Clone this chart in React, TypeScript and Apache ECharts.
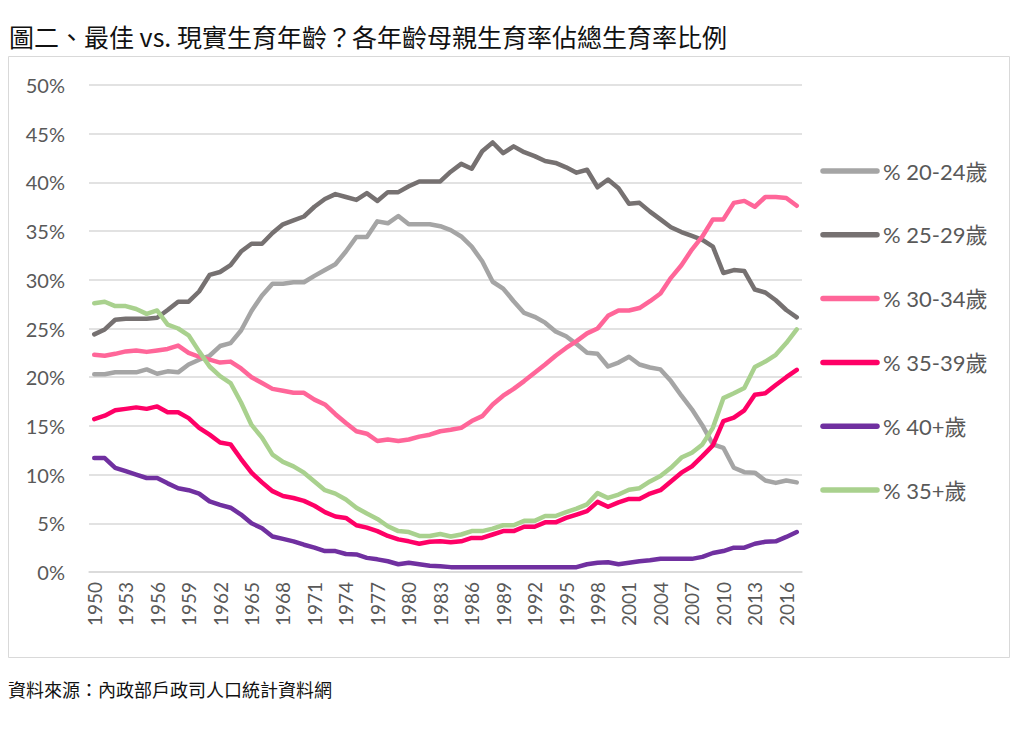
import React, { useEffect, useRef } from "react";
import * as echarts from "echarts";

const years: string[] = [];
for (let y = 1950; y <= 2017; y++) years.push(String(y));

const a2024 = [
  20.3, 20.3, 20.5, 20.5, 20.5, 20.8, 20.35, 20.6, 20.5, 21.3,
  21.8, 22.2, 23.2, 23.5, 24.8, 26.8, 28.4, 29.6, 29.6, 29.75,
  29.75, 30.4, 31.0, 31.6, 32.9, 34.4, 34.4, 36.0, 35.8, 36.55,
  35.7, 35.7, 35.7, 35.5, 35.1, 34.45, 33.4, 31.9, 29.8, 29.1,
  27.8, 26.6, 26.2, 25.6, 24.7, 24.2, 23.4, 22.5, 22.4, 21.1,
  21.5, 22.1, 21.3, 21.0, 20.8, 19.6, 18.1, 16.7, 15.05, 13.1,
  12.75, 10.7, 10.25, 10.2, 9.4, 9.15, 9.4, 9.2,
];
const a2529 = [
  24.4, 24.9, 25.9, 26.0, 26.0, 26.0, 26.1, 26.9, 27.75, 27.75,
  28.8, 30.5, 30.8, 31.5, 32.9, 33.7, 33.7, 34.8, 35.7, 36.1,
  36.5, 37.5, 38.3, 38.8, 38.5, 38.2, 38.9, 38.1, 39.0, 39.0,
  39.6, 40.1, 40.1, 40.1, 41.1, 41.9, 41.4, 43.2, 44.1, 43.0,
  43.7, 43.1, 42.7, 42.2, 42.0, 41.55, 41.0, 41.3, 39.5, 40.3,
  39.4, 37.8, 37.9, 37.0, 36.2, 35.4, 34.9, 34.5, 34.1, 33.4,
  30.7, 31.0, 30.9, 29.0, 28.7, 27.9, 26.9, 26.15,
];
const a3034 = [
  22.3, 22.2, 22.4, 22.65, 22.75, 22.6, 22.75, 22.9, 23.25, 22.5,
  22.1, 21.8, 21.5, 21.6, 20.9, 20.0, 19.4, 18.8, 18.6, 18.4,
  18.4, 17.7, 17.2, 16.2, 15.3, 14.45, 14.2, 13.45, 13.6, 13.45,
  13.6, 13.9, 14.1, 14.45, 14.6, 14.8, 15.5, 16.0, 17.2, 18.1,
  18.8, 19.6, 20.45, 21.3, 22.2, 23.0, 23.7, 24.5, 25.0, 26.3,
  26.85, 26.85, 27.1, 27.8, 28.6, 30.2, 31.5, 33.1, 34.45, 36.2,
  36.2, 37.9, 38.1, 37.5, 38.5, 38.5, 38.4, 37.6,
];
const a3539 = [
  15.7, 16.05, 16.6, 16.75, 16.9, 16.75, 17.0, 16.4, 16.4, 15.8,
  14.8, 14.1, 13.3, 13.1, 11.6, 10.2, 9.2, 8.3, 7.8, 7.6,
  7.3, 6.8, 6.15, 5.7, 5.55, 4.8, 4.55, 4.2, 3.7, 3.35,
  3.15, 2.9, 3.1, 3.15, 3.05, 3.15, 3.5, 3.5, 3.85, 4.2,
  4.2, 4.65, 4.65, 5.1, 5.1, 5.55, 5.9, 6.25, 7.2, 6.7,
  7.15, 7.5, 7.5, 8.05, 8.4, 9.3, 10.2, 10.85, 11.9, 13.0,
  15.5, 15.85, 16.6, 18.2, 18.35, 19.2, 20.0, 20.75,
];
const a40p = [
  11.7, 11.7, 10.7, 10.35, 10.0, 9.65, 9.65, 9.1, 8.6, 8.4,
  8.05, 7.25, 6.9, 6.6, 5.9, 5.0, 4.5, 3.65, 3.4, 3.15,
  2.8, 2.5, 2.15, 2.15, 1.85, 1.8, 1.45, 1.3, 1.1, 0.8,
  0.95, 0.8, 0.65, 0.6, 0.5, 0.5, 0.5, 0.5, 0.5, 0.5,
  0.5, 0.5, 0.5, 0.5, 0.5, 0.5, 0.5, 0.8, 0.95, 1.0,
  0.8, 0.95, 1.1, 1.2, 1.35, 1.35, 1.35, 1.35, 1.55, 1.95,
  2.15, 2.5, 2.5, 2.9, 3.1, 3.15, 3.6, 4.1,
];
const a35p = [
  27.6, 27.75, 27.3, 27.3, 27.0, 26.5, 26.85, 25.4, 25.0, 24.3,
  22.65, 21.1, 20.1, 19.4, 17.4, 15.1, 13.8, 12.05, 11.3, 10.85,
  10.2, 9.3, 8.4, 8.05, 7.45, 6.6, 6.0, 5.45, 4.7, 4.2,
  4.1, 3.7, 3.7, 3.9, 3.65, 3.85, 4.2, 4.2, 4.45, 4.8,
  4.8, 5.25, 5.25, 5.75, 5.75, 6.15, 6.5, 6.95, 8.1, 7.6,
  7.95, 8.45, 8.6, 9.3, 9.85, 10.7, 11.75, 12.25, 13.1, 14.8,
  17.85, 18.35, 18.9, 21.05, 21.6, 22.3, 23.5, 24.9,
];

const seriesNames = ["% 20-24歲", "% 25-29歲", "% 30-34歲", "% 35-39歲", "% 40+歲", "% 35+歲"];
const seriesData = [a2024, a2529, a3034, a3539, a40p, a35p];
const seriesColors = ["#a5a5a5", "#767171", "#ff6699", "#ff0066", "#7030a0", "#a9d18e"];

const titleText = "圖二、最佳 vs. 現實生育年齡？各年齡母親生育率佔總生育率比例";
const sourceText = "資料來源：內政部戶政司人口統計資料網";

const LATIN = "Lato, 'Noto Sans CJK TC', sans-serif";
const CJK = "'Noto Sans CJK TC', 'Noto Sans', sans-serif";

export default function App() {
  const ref = useRef<HTMLDivElement>(null);
  useEffect(() => {
    if (!ref.current) return;
    const chart = echarts.init(ref.current, undefined, { renderer: "svg" });

    const legendTop = 171;
    const legendStep = 63.8;
    const legendGraphics: any[] = [];
    seriesNames.forEach((name, i) => {
      const cy = legendTop + i * legendStep;
      legendGraphics.push({
        type: "line",
        shape: { x1: 823, y1: cy, x2: 877, y2: cy },
        style: { stroke: seriesColors[i], lineWidth: 5.5, lineCap: "round" },
        silent: true,
      });
      legendGraphics.push({
        type: "text",
        x: 883,
        y: cy,
        style: {
          text: name,
          font: `22px ${LATIN}`,
          fill: "#595959",
          textVerticalAlign: "middle",
          verticalAlign: "middle",
          textAlign: "left",
        },
        silent: true,
      });
    });

    chart.setOption({
      animation: false,
      backgroundColor: "#ffffff",
      title: {
        text: titleText,
        left: 4,
        top: 18,
        textStyle: { fontFamily: CJK, fontSize: 25, fontWeight: "normal", color: "#111" },
      },
      graphic: [
        {
          type: "rect",
          shape: { x: 8.5, y: 56.5, width: 1001, height: 601 },
          style: { fill: "none", stroke: "#d9d9d9", lineWidth: 1 },
          silent: true,
        },
        {
          type: "text",
          left: 8,
          top: 680,
          style: { text: sourceText, font: `18px ${CJK}`, fill: "#111" },
        },
        ...legendGraphics,
      ],
      grid: { left: 89, right: 222, top: 85, bottom: 158, containLabel: false },
      xAxis: {
        type: "category",
        data: years,
        boundaryGap: true,
        axisLine: { show: true, lineStyle: { color: "#d9d9d9", width: 1.5 } },
        axisTick: { show: false },
        axisLabel: {
          interval: 2,
          rotate: 90,
          margin: 10,
          fontFamily: LATIN,
          fontSize: 19,
          color: "#595959",
        },
      },
      yAxis: {
        type: "value",
        min: 0,
        max: 50,
        interval: 5,
        axisLine: { show: false },
        axisTick: { show: false },
        splitLine: { lineStyle: { color: "#d9d9d9", width: 1.5 } },
        axisLabel: {
          formatter: "{value}%",
          margin: 24,
          fontFamily: LATIN,
          fontSize: 20,
          color: "#595959",
        },
      },
      series: seriesNames.map((name, i) => ({
        name,
        type: "line",
        data: seriesData[i],
        showSymbol: false,
        symbol: "none",
        lineStyle: { color: seriesColors[i], width: 4.5, cap: "round", join: "round" },
        itemStyle: { color: seriesColors[i] },
      })),
    });
    return () => chart.dispose();
  }, []);
  return (
    <div
      ref={ref}
      style={{ position: "absolute", left: 0, top: 0, width: 1024, height: 730 }}
    />
  );
}
